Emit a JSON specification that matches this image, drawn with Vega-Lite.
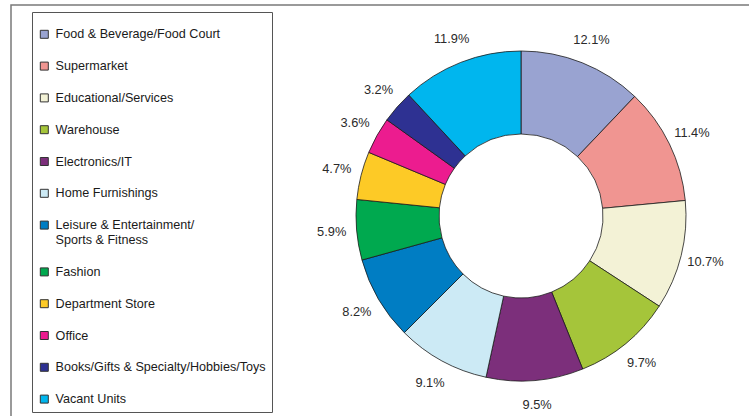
{
  "$schema": "https://vega.github.io/schema/vega-lite/v6.json",
  "width": 1020,
  "height": 422,
  "autosize": {"type": "none"},
  "padding": {"left": 11, "top": 5, "right": -282, "bottom": -11},
  "background": "white",
  "config": {
    "view": {"stroke": "#7a7a7a", "strokeWidth": 1.5},
    "font": "Liberation Sans"
  },
  "data": {
    "values": [
      {"idx": 1, "category": "Food & Beverage/Food Court", "share": 0.121},
      {"idx": 2, "category": "Supermarket", "share": 0.114},
      {"idx": 3, "category": "Educational/Services", "share": 0.107},
      {"idx": 4, "category": "Warehouse", "share": 0.097},
      {"idx": 5, "category": "Electronics/IT", "share": 0.095},
      {"idx": 6, "category": "Home Furnishings", "share": 0.091},
      {"idx": 7, "category": "Leisure & Entertainment/Sports & Fitness", "share": 0.082},
      {"idx": 8, "category": "Fashion", "share": 0.059},
      {"idx": 9, "category": "Department Store", "share": 0.047},
      {"idx": 10, "category": "Office", "share": 0.036},
      {"idx": 11, "category": "Books/Gifts & Specialty/Hobbies/Toys", "share": 0.032},
      {"idx": 12, "category": "Vacant Units", "share": 0.119}
    ]
  },
  "layer": [
    {
      "mark": {"type": "arc", "outerRadius": 165, "innerRadius": 82, "stroke": "#1a1a1a", "strokeWidth": 0.8},
      "encoding": {
        "theta": {"field": "share", "type": "quantitative", "stack": true},
        "order": {"field": "idx", "type": "quantitative"},
        "color": {
          "field": "category",
          "type": "nominal",
          "scale": {
            "domain": ["Food & Beverage/Food Court", "Supermarket", "Educational/Services", "Warehouse", "Electronics/IT", "Home Furnishings", "Leisure & Entertainment/Sports & Fitness", "Fashion", "Department Store", "Office", "Books/Gifts & Specialty/Hobbies/Toys", "Vacant Units"],
            "range": ["#99A3D1", "#F09591", "#F3F2D6", "#A5C53A", "#7C2F7B", "#CCEAF5", "#007DC3", "#00A94F", "#FDCA26", "#EC1C8F", "#2E3192", "#00B6EE"]
          },
          "legend": {
            "orient": "none",
            "legendX": 21,
            "legendY": 7,
            "title": " ",
            "titleFontSize": 2,
            "titlePadding": 8,
            "symbolType": "square",
            "symbolSize": 64,
            "symbolStrokeColor": "#333333",
            "symbolStrokeWidth": 1,
            "labelFont": "Liberation Sans",
            "labelFontSize": 12.6,
            "labelColor": "#1a1a1a",
            "labelOffset": 5,
            "labelLimit": 320,
            "rowPadding": 18.8,
            "padding": 6,
            "strokeColor": "#555555",
            "labelExpr": "datum.label == 'Leisure & Entertainment/Sports & Fitness' ? ['Leisure & Entertainment/', 'Sports & Fitness'] : datum.label"
          }
        }
      }
    },
    {
      "mark": {"type": "text", "radius": 190, "fontSize": 12.8, "font": "Liberation Sans", "color": "#2a2a2a"},
      "encoding": {
        "theta": {"field": "share", "type": "quantitative", "stack": true},
        "order": {"field": "idx", "type": "quantitative"},
        "detail": {"field": "category", "type": "nominal"},
        "text": {"field": "share", "type": "quantitative", "format": ".1%"}
      }
    },
    {
      "mark": {"type": "rule", "opacity": 0},
      "encoding": {
        "x": {"datum": 0, "type": "quantitative", "scale": {"domain": [0, 1]}, "axis": null}
      }
    }
  ]
}
